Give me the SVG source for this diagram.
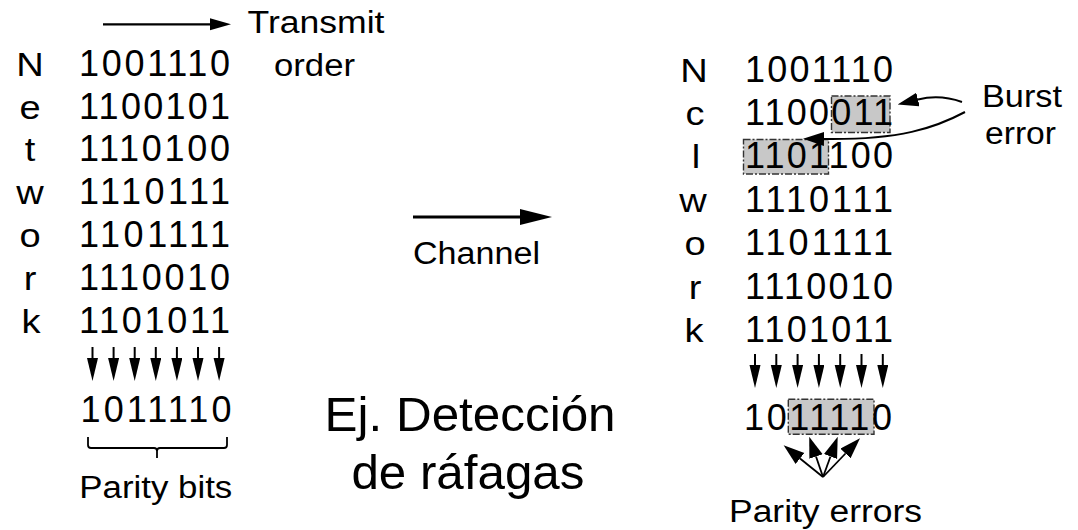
<svg xmlns="http://www.w3.org/2000/svg" width="1078" height="530" viewBox="0 0 1078 530">
  <style>
    text { font-family: "Liberation Sans", Arial, sans-serif; fill: #000; }
    .bits { font-size: 36px; }
    .lt { font-size: 34px; text-anchor: middle; }
    .lbl { font-size: 31px; }
    .title { font-size: 48px; }
    .ln { stroke: #000; fill: none; }
    .hl { fill: #c8c8c8; stroke: #333; stroke-width: 1.4; stroke-dasharray: 7 2 2 2; }
  </style>
  <defs>
    <marker id="hDown" markerUnits="userSpaceOnUse" markerWidth="23" markerHeight="12" refX="0" refY="5.5" orient="auto">
      <path d="M0,0 L23,5.5 L0,11 z" fill="#000"/>
    </marker>
    <marker id="hMed" markerUnits="userSpaceOnUse" markerWidth="21" markerHeight="13" refX="0" refY="6" orient="auto">
      <path d="M0,0 L21,6 L0,12 z" fill="#000"/>
    </marker>
    <marker id="hBig" markerUnits="userSpaceOnUse" markerWidth="32" markerHeight="17" refX="0" refY="8" orient="auto">
      <path d="M0,0 L32,8 L0,16 z" fill="#000"/>
    </marker>
    <marker id="hSm" markerUnits="userSpaceOnUse" markerWidth="21" markerHeight="15" refX="0" refY="7" orient="auto">
      <path d="M0,0 L21,7 L0,14 z" fill="#000"/>
    </marker>
  </defs>

  <!-- transmitted block: "Network" with its parity row -->
  <g id="sent-block">
    <text class="lt" transform="translate(30 76) scale(1.12 1)">N</text>
    <text class="lt" transform="translate(30 118.5) scale(1.12 1)">e</text>
    <text class="lt" transform="translate(30 161) scale(1.12 1)">t</text>
    <text class="lt" transform="translate(30 204) scale(1.12 1)">w</text>
    <text class="lt" transform="translate(30 247) scale(1.12 1)">o</text>
    <text class="lt" transform="translate(30 289.5) scale(1.12 1)">r</text>
    <text class="lt" transform="translate(31 332.5) scale(1.12 1)">k</text>
    <text class="bits" x="79" y="76" textLength="151" lengthAdjust="spacing">1001110</text>
    <text class="bits" x="79" y="118.5" textLength="151" lengthAdjust="spacing">1100101</text>
    <text class="bits" x="79" y="161" textLength="151" lengthAdjust="spacing">1110100</text>
    <text class="bits" x="79" y="204" textLength="151" lengthAdjust="spacing">1110111</text>
    <text class="bits" x="79" y="247" textLength="151" lengthAdjust="spacing">1101111</text>
    <text class="bits" x="79" y="289.5" textLength="151" lengthAdjust="spacing">1110010</text>
    <text class="bits" x="79" y="332.5" textLength="151" lengthAdjust="spacing">1101011</text>
    <text class="bits" x="80.5" y="421.5" textLength="151" lengthAdjust="spacing">1011110</text>
    <path class="ln" stroke-width="1.8" stroke="#333" d="M88,437 V445 Q88,448 91,448 H154 Q157,448 157,451 V458 M157,451 Q157,448 160,448 H224 Q227,448 227,445 V437"/>
    <text class="lbl" x="79.3" y="497.5" textLength="153" lengthAdjust="spacingAndGlyphs">Parity bits</text>
  </g>

  <!-- transmit order label -->
  <g id="transmit-order">
    <text class="lbl" x="247.5" y="33" textLength="137" lengthAdjust="spacingAndGlyphs">Transmit</text>
    <text class="lbl" x="274" y="76" textLength="81" lengthAdjust="spacingAndGlyphs">order</text>
  </g>

  <!-- channel label -->
  <g id="channel">
    <text class="lbl" font-size="32" x="413" y="264" textLength="127" lengthAdjust="spacingAndGlyphs">Channel</text>
  </g>

  <!-- slide caption -->
  <g id="caption">
    <text class="title" x="324.6" y="431" textLength="291" lengthAdjust="spacingAndGlyphs">Ej. Detección</text>
    <text class="title" x="351.4" y="489" textLength="233" lengthAdjust="spacingAndGlyphs">de ráfagas</text>
  </g>

  <!-- received block with a burst error -->
  <g id="received-block">
    <rect class="hl" x="831.5" y="96" width="58.5" height="36.5"/>
    <rect class="hl" x="743.5" y="139.5" width="85" height="34.5"/>
    <rect class="hl" x="788.3" y="399.3" width="85.7" height="35"/>
    <text class="lt" transform="translate(694 81.5) scale(1.12 1)">N</text>
    <text class="lt" transform="translate(695 125) scale(1.12 1)">c</text>
    <text class="lt" transform="translate(696 168) scale(1.12 1)">l</text>
    <text class="lt" transform="translate(693 211.5) scale(1.12 1)">w</text>
    <text class="lt" transform="translate(695 255) scale(1.12 1)">o</text>
    <text class="lt" transform="translate(695 298.5) scale(1.12 1)">r</text>
    <text class="lt" transform="translate(694 342) scale(1.12 1)">k</text>
    <text class="bits" x="745" y="81.5" textLength="148" lengthAdjust="spacing">1001110</text>
    <text class="bits" x="745" y="125" textLength="148" lengthAdjust="spacing">1100011</text>
    <text class="bits" x="745" y="168" textLength="148" lengthAdjust="spacing">1101100</text>
    <text class="bits" x="745" y="211.5" textLength="148" lengthAdjust="spacing">1110111</text>
    <text class="bits" x="745" y="255" textLength="148" lengthAdjust="spacing">1101111</text>
    <text class="bits" x="745" y="298.5" textLength="148" lengthAdjust="spacing">1110010</text>
    <text class="bits" x="745" y="342" textLength="148" lengthAdjust="spacing">1101011</text>
    <text class="bits" x="744" y="430" textLength="148" lengthAdjust="spacing">1011110</text>
  </g>

  <g id="burst-error-label">
    <text class="lbl" font-size="32" x="982" y="107" textLength="80" lengthAdjust="spacingAndGlyphs">Burst</text>
    <text class="lbl" font-size="32" x="985" y="144" textLength="71" lengthAdjust="spacingAndGlyphs">error</text>
  </g>

  <g id="parity-errors-label">
    <text class="lbl" x="729" y="521.5" textLength="193" lengthAdjust="spacingAndGlyphs">Parity errors</text>
  </g>

  <!-- arrows -->
  <g id="connectors" class="ln">
    <!-- transmit order -->
    <line x1="103" y1="24.3" x2="210" y2="24.3" stroke-width="2.3" marker-end="url(#hMed)"/>
    <!-- channel -->
    <line x1="413" y1="217" x2="520" y2="217" stroke-width="3.2" marker-end="url(#hBig)"/>
    <!-- column parity, sender -->
    <g stroke-width="2">
      <line x1="92.5" y1="347" x2="92.5" y2="358" marker-end="url(#hDown)"/>
      <line x1="113.6" y1="347" x2="113.6" y2="358" marker-end="url(#hDown)"/>
      <line x1="134.7" y1="347" x2="134.7" y2="358" marker-end="url(#hDown)"/>
      <line x1="155.8" y1="347" x2="155.8" y2="358" marker-end="url(#hDown)"/>
      <line x1="176.9" y1="347" x2="176.9" y2="358" marker-end="url(#hDown)"/>
      <line x1="198" y1="347" x2="198" y2="358" marker-end="url(#hDown)"/>
      <line x1="219.1" y1="347" x2="219.1" y2="358" marker-end="url(#hDown)"/>
    </g>
    <!-- column parity, receiver -->
    <g stroke-width="2">
      <line x1="755" y1="354" x2="755" y2="365" marker-end="url(#hDown)"/>
      <line x1="776.3" y1="354" x2="776.3" y2="365" marker-end="url(#hDown)"/>
      <line x1="797.6" y1="354" x2="797.6" y2="365" marker-end="url(#hDown)"/>
      <line x1="818.9" y1="354" x2="818.9" y2="365" marker-end="url(#hDown)"/>
      <line x1="840.2" y1="354" x2="840.2" y2="365" marker-end="url(#hDown)"/>
      <line x1="861.5" y1="354" x2="861.5" y2="365" marker-end="url(#hDown)"/>
      <line x1="882.8" y1="354" x2="882.8" y2="365" marker-end="url(#hDown)"/>
    </g>
    <!-- burst error pointers -->
    <path d="M962,102 C948,97 932,96 918,99.5" stroke-width="2" marker-end="url(#hSm)"/>
    <path d="M965,112 C935,128 900,140 824,139" stroke-width="2" marker-end="url(#hSm)"/>
    <!-- parity error pointers -->
    <g stroke-width="1.8">
      <line x1="823" y1="477" x2="800" y2="458.5" marker-end="url(#hSm)"/>
      <line x1="823" y1="477" x2="816" y2="456.5" marker-end="url(#hSm)"/>
      <line x1="823" y1="477" x2="830.5" y2="456.5" marker-end="url(#hSm)"/>
      <line x1="823" y1="477" x2="845.5" y2="453.5" marker-end="url(#hSm)"/>
    </g>
  </g>
</svg>
